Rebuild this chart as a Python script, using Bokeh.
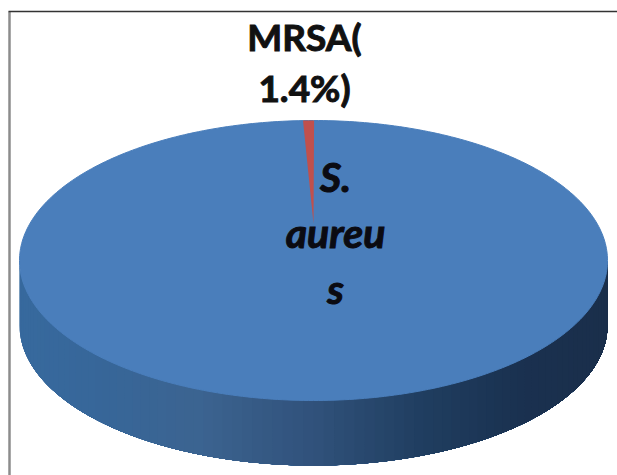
import numpy as np
from bokeh.plotting import figure
from bokeh.models import Range1d
from bokeh.core.properties import value
from bokeh.embed import file_html
from bokeh.resources import INLINE

# data
categories = ["MRSA", "S. aureus"]
percent_labelled = [1.4, 98.6]
# share of the disc the thin slice visibly occupies in the picture
drawn_share = [0.6, 99.4]
label_mrsa = ["MRSA(", "1.4%)"]
label_aureus = ["S.", "aureu", "s"]

TOP_COLOR = "#4a7ebb"
SLICE_COLOR = "#c0504d"
SHADE_X = [0.0, 0.12, 0.30, 0.50, 0.68, 0.85, 1.0]
SHADE_C = ["#376a9e", "#37679a", "#3c6491", "#30517a", "#203e60", "#1a3150", "#1a2f4b"]

W, H = 617, 475
p = figure(width=W, height=H, output_backend="svg", toolbar_location=None,
           x_range=Range1d(0, W), y_range=Range1d(H, 0),
           min_border=0, outline_line_color=None, background_fill_color="white",
           border_fill_color="white")
p.xaxis.visible = False
p.yaxis.visible = False
p.grid.visible = False

cx, cy, rx, ry, depth = 313, 260, 294, 140, 65
apex_y = 223

# frame of the picture
p.line([9, 9], [11, 475], line_color="#8c8c8c", line_width=2.5)
p.line([8, 617], [11, 11], line_color="#333333", line_width=1.5)

# side wall, front half of the disc, painted left to right so strips overlap
def shade(t):
    r = [int(c[1:3], 16) for c in SHADE_C]
    g = [int(c[3:5], 16) for c in SHADE_C]
    b = [int(c[5:7], 16) for c in SHADE_C]
    return "#%02x%02x%02x" % (int(np.interp(t, SHADE_X, r)),
                              int(np.interp(t, SHADE_X, g)),
                              int(np.interp(t, SHADE_X, b)))

n = 90
edges = np.linspace(np.pi, 0, n + 1)
for a0 in edges[:-1]:
    aa = np.linspace(a0, 0, 60)
    xs = cx + rx * np.cos(aa)
    yt = cy + ry * np.sin(aa)
    x_poly = list(xs) + list(xs[::-1])
    y_poly = list(yt) + list((yt + depth)[::-1])
    t = (cx + rx * np.cos(a0) - (cx - rx)) / (2 * rx)
    p.patch(x_poly, y_poly, fill_color=shade(t), line_color=None)

# top face
slice_angle = 2 * np.pi * drawn_share[0] / 100
aa = np.linspace(0, 2 * np.pi, 361)
p.patch(cx + rx * np.cos(aa), cy + ry * np.sin(aa),
        fill_color=TOP_COLOR, line_color=TOP_COLOR, line_width=1)

# MRSA slice, ending at 12 o'clock plus a small offset as drawn
start = -np.pi / 2 + 0.002
arc = np.linspace(start - slice_angle, start, 12)
sx = list(cx + rx * np.cos(arc)) + [cx]
sy = list(cy + ry * np.sin(arc)) + [apex_y]
p.patch(sx, sy, fill_color=SLICE_COLOR, line_color=None)

FONT = value("Lato")
for text, y in zip(label_mrsa, [36, 87]):
    p.text([304], [y], text=[text], text_font=FONT, text_font_size="37px",
           text_font_style="bold", text_align="center", text_baseline="middle",
           text_color="#111111", text_outline_color="#111111")
for text, y in zip(label_aureus, [176, 232, 288]):
    p.text([335], [y], text=[text], text_font=FONT, text_font_size="41px",
           text_font_style="bold italic", text_align="center", text_baseline="middle",
           text_color="#0b0b12", text_outline_color="#0b0b12")

open("out.html", "w").write(file_html(p, INLINE))
